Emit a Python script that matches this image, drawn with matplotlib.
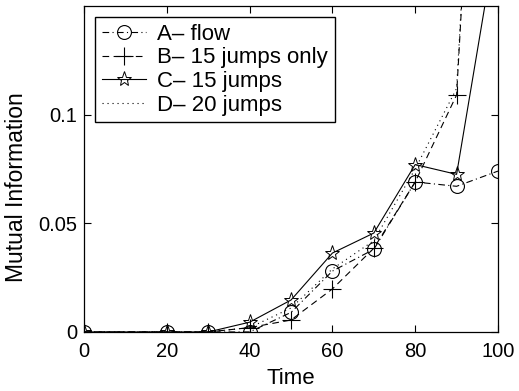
import numpy as np
import matplotlib
matplotlib.use("Agg")
import matplotlib.pyplot as plt

plt.rcParams['font.family'] = ['Liberation Sans', 'DejaVu Sans']

# data
time = [0, 20, 30, 40, 50, 60, 70, 80, 90, 100]
a_flow = [0, 0, 0, 0, 0.009, 0.028, 0.038, 0.069, 0.067, 0.074]
b_15only = [0, 0, 0, 0.002, 0.0055, 0.0198, 0.0385, 0.069, 0.109, 0.45]
c_15jumps = [0, 0, 0, 0.0045, 0.0147, 0.0363, 0.0455, 0.077, 0.0725, 0.186]
d_20jumps = [0, 0, 0, 0.002, 0.011, 0.029, 0.042, 0.075, 0.112, 0.45]

xticks = [0, 20, 40, 60, 80, 100]
yticks = [0, 0.05, 0.1]
yticklabels = ['0', '0.05', '0.1']

fig = plt.figure(figsize=(5.19, 3.91), dpi=100)
ax = fig.add_axes([0.162, 0.151, 0.7975, 0.834])

lw = 0.8
ms = 10
ax.plot(time, a_flow, color='k', lw=lw, linestyle=(0, (6, 3, 1, 3)),
        marker='o', ms=ms, mfc='none', mec='k', mew=0.8, label='A\u2013 flow')
ax.plot(time, b_15only, color='k', lw=lw, linestyle=(0, (6, 4)),
        marker='+', ms=ms + 3, mec='k', mew=0.8, label='B\u2013 15 jumps only')
ax.plot(time, c_15jumps, color='k', lw=lw, linestyle='-',
        marker='*', ms=ms + 1, mfc='none', mec='k', mew=0.7, label='C\u2013 15 jumps')
ax.plot(time, d_20jumps, color='k', lw=lw, linestyle=(0, (1, 3.5)),
        label='D\u2013 20 jumps')

ax.set_xlim(0, 100)
ax.set_ylim(0, 0.15)
ax.set_xticks(xticks)
ax.set_yticks(yticks)
ax.set_yticklabels(yticklabels)
ax.tick_params(direction='in', top=True, right=True, length=5, width=0.8,
               labelsize=14.5)
ax.tick_params(axis='x', pad=7)
ax.tick_params(axis='y', pad=5)
for s in ax.spines.values():
    s.set_linewidth(0.9)

ax.set_xlabel('Time', fontsize=16, labelpad=5)
ax.set_ylabel('Mutual Information', fontsize=16.5)
ax.yaxis.set_label_coords(-0.135, 0.445)

leg = ax.legend(loc='upper left', fontsize=16, fancybox=False, framealpha=1,
                edgecolor='k', handlelength=2.0, handletextpad=0.5,
                labelspacing=0.12, borderpad=0.3, borderaxespad=0.5)
leg.get_frame().set_linewidth(1.0)

fig.savefig('out.png', dpi=100)
